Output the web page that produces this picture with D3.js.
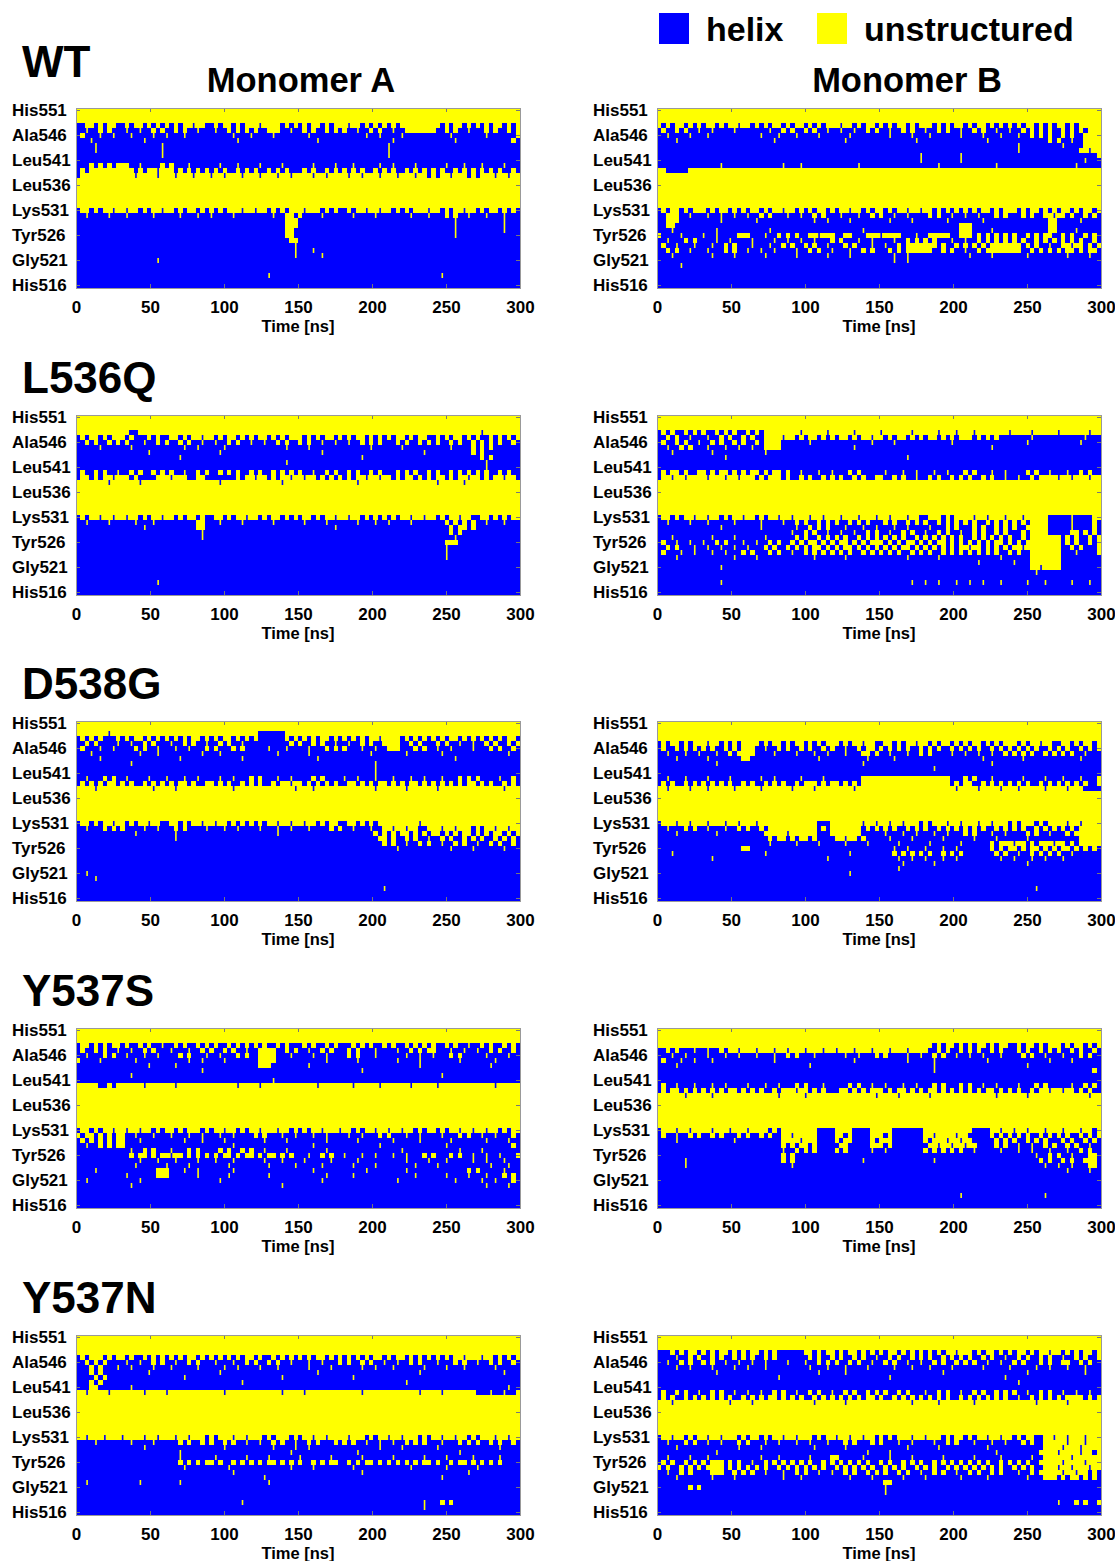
<!DOCTYPE html>
<html>
<head>
<meta charset="utf-8">
<script src="https://cdn.jsdelivr.net/npm/d3@7/dist/d3.min.js"></script>
<style>
  body { margin: 0; background: #fff; }
  text { font-family: "Liberation Sans", Arial, sans-serif; font-weight: bold; fill: #000; font-size: 17px; }
</style>
</head>
<body>
<script>
// residues on the y axis, top to bottom
var residues = d3.range(551, 515, -1);
var tickResidues = [551, 546, 541, 536, 531, 526, 521, 516];
var tickNames = ["His551", "Ala546", "Leu541", "Leu536", "Lys531", "Tyr526", "Gly521", "His516"];
var timeTicks = [0, 50, 100, 150, 200, 250, 300];
var variants = ["WT", "L536Q", "D538G", "Y537S", "Y537N"];
var monomers = ["Monomer A", "Monomer B"];
var legendNames = ["helix", "unstructured"];
var legendKeys = ["#", "."];

// one string per residue (His551 first), one char per time bin over 0-300 ns
// '#' = helix, '.' = unstructured; a single char fills the whole run
var wtA = [
  ".", ".", ".",
  "##..#.#..# #.#..#.#.# .#.#..#..# #.#..#.#.. .#....#.#. #.#..#.#.. .#..#.#.#. #.#....... ..#.#..#.# .#.#..#.#.", // 548
  "##.##.#.## #.##.##.#. ##.#.##.## #.##.#.#.# .##...##.# #.#.##.#.# .##.##.#.# #.##...... .##.#.##.# ##.#.##.#.",
  "#.###.##.# ##.####.## .###.##### #####.###. ####.##### ##.####### #####.##.# ###.###### ####.##### ##.######.", // 546
  "###.###### #####.#### ########## ######.### ########## ####.##### ########## #.######## #####.#### ########.#",
  "####.##### #########. ########## ########## ########## ########## ########## .######### ########## ##########",
  "####.##### #########. ########## ########## ########## ########## ########## .######### ########## ##########",
  "########## #########. ########## ########## ########## ########## ########## .######### ########## ##########",
  "#", // 541
  "###.#.#.#. ..##.####. #.###.#### ##.###.### #.####.### ###.####.# ##.#####.# #.####.### ###.###.## #.####.###",
  "#.#....... ...#.#..#. ..#.#.#.#. #.#.##.#.# .##.#.#.## #.#.##.#.# .#.#.##.#. #.##.#.#.# .#.##.#.#. #.#.#.##.#",
  "#......... ...#....#. ..#...#... #..#...#.. .#...#..#. ...#..#... .#..#...#. ..#...#..# .#..#...#. #...#..#..", // 538
  ".", ".", ".", ".", ".", ".",
  "#..#.#..#. .#..#.#..# ..#.#..#.# .#.#...#.. #..#.#.#.. .#...#.#.# #.#..#..#. .#.#.#...# ..#.#..#.. #.#..#.#.#", // 531
  "##.####.## #.#####.## ###.###.## .####.#### ####.##..# .####.#### ##.####.## #####.###. ###.#.##.# ##.###.###",
  "########## ########## ########## ########## #######... ########## ########## ########## #####.#### ######.###",
  "########## ########## ########## ########## #######... ########## ########## ########## #####.#### ######.###",
  "########## ########## ########## ########## #######..# ########## ########## ########## #####.#### ######.###",
  "########## ########## ########## ########## #######..# ########## ########## ########## #####.#### ##########", // 526
  "########## ########## ########## ########## ########.. ########## ########## ########## ########## ##########",
  "########## ########## ########## ########## #########. ########## ########## ########## ########## ##########",
  "########## ########## ########## ########## #########. ###.###### ########## ########## ########## ##########",
  "########## ########## ########## ########## #########. #####.#### ########## ########## ########## ##########",
  "########## ########.# ########## ########## ########## ########## ########## ########## ########## ##########", // 521
  "#", "#",
  "########## ########## ########## ########## ###.###### ########## ########## ########## ##.####### ##########",
  "#", "#"
];

var wtB = [
  ".", ".", ".",
  ".#.#..#.#. #..#.#..#. .#.#.#..#. #..#.#.#.. .#..#.#..# .#.#..#.#. ..#.#.#..# .#..#.#.#. #.#..#.#.# ..#.#.....", // 548
  "#.##.#.##. ##.####.## #####.##.# .##.#.##.# #.##.##.#. ##.##.#.## .##.#.##.# #.#.##.##. ##.#.#.#.# #.#.#.#...",
  "##.####.## #.######## ###.###.## #.####.### ###.###### ##.####.## #.######.# ###.###.## #.##.#.#.# #.#.##....", // 546
  "####.##### ########## ######.### ########## ##.####### ########.# ########## ####.##### ########.# .##.##....",
  "########## ########## ########## ########## ########## ########## ########## ########## #.######## #.####....",
  "########## ########## ########## ########## ########## ########## ########## ########## #.######## #####..#..",
  "########## ########## ########## ########## ########## #########. ########.# ########## ########## #########.",
  "########## ########## ########## ########## ########## #########. ########.# ########## ########## ######.###", // 541
  "########## ####.##### ########.# ##.####### #####.#### ########## ###.###### ######.### ########## ####.#####",
  "..#####... .......... .......... .......... .......... .......... .......... .......... .......... ..........",
  ".", ".", ".", ".", ".", ".", ".", // 538-532
  "#.#..#.#.. .#.#..#.#. #..#.#..#. .#.#.#..#. #..#..#.#. .#.#..#..# ..#.#.#.#. #.#..#.#.. .#.#..#.#. #..#.#..#.", // 531
  "##...##.## #.##.##.## .##.#.###. ##.##.#.## #.###.##.# .##.##.### #.#.##.##. ##.###.#.# ##.#.##..# ..#.##.#.#",
  "##...##### ####.##### ##.####### #####.##.# ###.###### ##.####.## #####.#### ###.###### ########.. #####.####",
  "##..###### ########## ########## ########## ########## ########## ########.. .######### ########.. ##########",
  "###.###### ###.###### #####.#### ########## ######.### ########## ########.. .####.#### ########.. ####.#####",
  ".####.#### .##.####.. .###.##.#. #.##..#... ##..###... #....###.# #.....##.. .#.#.#.#.# .##.#.#..# #.#.##.#.#", // 526
  "##.###.#.# ###.##.### #.####.##. ##.##.###. #.###.##.# ###.##.#.# .#.###.##. ##.#.#.#.# .#.##.#.#. #.#.#.##.#",
  "#.##.###.# ##.##.#.## #.###.##.# .##.#.##.# ##.#.###.# #.##.#.... ...#.##.#. #.#.#..... ..#.#.##.# #..#..#.#.",
  "##.#.##.## #.###.#.## .##.##.### #.##.#.##. ###.##.#.# ##.#.#.... ..##.#.##. ##.#...... ..##.#.#.# .#..#.#..#",
  "###.###### ##.####.## ####.##### #.######.# ###.###### ###.##.### ########## .####.#### ###.###### ##.####.##",
  "########## ########## ########## ########## ########## ###.##.### ########## ########## ########## ##########", // 521
  "#####.#### ########## ########## ########## ########## ########## ########## ########## ########## ##########",
  "#", "#", "#", "#"
];

var lqA = [
  ".", ".", ".",
  ".......... ..##...... .......... .......... .......... .......... .......... .......... .......... .#........", // 548
  "#.#..#.#.. .#.###.#.# #..#.#..#. .#.#..#.#. #..#.#.#.. .#.#.#..#. #.#..#.#.# .#..#.#..# #.#.#..#.# .##.#.#.#.",
  "##.#.##.#. #.###.##.# .##.#.##.# #.##.#.##. ##.##.#.## .#.##.##.# #.##.#.#.# ##.#.##.#. #.##.#.##. #.#.#.##.#", // 546
  "#####.#### ##.####### ####.##.## ###.###### #######.## ##.####### ######.### ###.###### ####.####. #.#.######",
  "########## ######.### ########## ##.####### ########## #####.#### ########## ########.# #########. #.########",
  "########## ########## ###.###### ########## ########## ########## ####.##### ########## ########## #.#.######",
  "########## ########## ########## ########## #######.## ########## ########## ########## ########## ##.#######",
  "########## ########## ########## ########## ########## ########## ########## ########## ########## ##.#######", // 541
  "#.##.#.##. ##.#.##.#. #.##.##.#. ##.#.#.##. #.##.#.#.# .##.##.#.# #.#.##.#.# ##.#.#.##. #.##.#.#.# .#.##.#.##",
  "#..#.#..#. ..#.####.. .#...##..# ######.#.. #..#.#..#. .#..#.#.#. #.#..#..#. .#.#..#.#. #..#.#..#. .#.#..#..#",
  ".......#.. ....#..... .......... ..#....... ......#... .......... ...#...... .......... .#.....#.. ..........", // 538
  ".", ".", ".", ".", ".", ".",
  "#.#..#..#. .#..#.#..# ..#.#..#.# #..#.#..#. .#.#..#.#. #..#.#..#. .#..#.#.#. #.#..#..#. .#.#..#..# #..#.#.#..", // 531
  "##.####.## ###.###.## #######..# ##.####.## ####.##### #.####.### ###.###.## .####.#### ###.#.#.#. ##.###.###",
  "########## #####.#### #######..# ########## ########## ########.# ########## ########## ####.#..#. ##########",
  "########## ########## ########.# ########## ########## ########## ########## ########## ####.#.### ##########",
  "########## ########## ########.# ########## ########## ########## ########## ########## #####.#### ##########",
  "########## ########## ########## ########## ########## ########## ########## ########## ###...#### ##########", // 526
  "########## ########## ########## ########## ########## ########## ########## ########## ###.###### ##########",
  "########## ########## ########## ########## ########## ########## ########## ########## ###.###### ##########",
  "########## ########## ########## ########## ########## ########## ########## ########## ###.###### ##########",
  "#", "#", "#", "#", // 522-519
  "########## ########.# ########## ########## ########## ########## ########## ########## ########## ##########",
  "#", "#"
];

var lqB = [
  ".", ".", ".",
  "#.#.##.#.# .##.#.#.## .#.#...... ..#.....#. ....#..... #......#.. ...#...#.. .#.......# ....#..... #......#..", // 548
  "##.#.##.## #.##.#.##. #.##....#. .#.#..#.#. #..#.#..#. .#.#..#.#. #..#.#.#.. .#.#.#.### ####.##### ######.###",
  "#.##.#.##. ##.#.##.#. ##.#....## ####.##### ########.# ###.###### ######.### ########## ###.###### #####.####", // 546
  "##.##.#.## #.###.##.# #.##....## ########## ####.##### ########## ########## #####.#### ########## ##########",
  "###.###### ##.####### ####.##### ########## ########## ########## ########## ########## ########## ##########",
  "########## #####.#### ########## ########## ########## ######.### ########## ########## ########## ##########",
  "#", "#", // 542-541
  "#.#..#.##. .#.#..#.#. #..#.#..#. ##.###.##. ###.#.#### #.###.##.# ##.##.###. #.###.##.# ###.#.##.# ##.##.#.##",
  "#..#..#... .#...#..#. ..#.#...#. ##.#.##.#. #.##.#.##. .##.#.##.# #.#.##.#.# .##.#.##.# #.##.#.... #..#...#..",
  ".", ".", ".", ".", ".", ".", ".", // 538-532
  "#..#.#..#. .#..#.#..# ..#.#..#.. #...#..#.. .#...#...# ..#...#..# #...#.#... .#..#...#. ..#.....## ###.####..", // 531
  "##.####.## #.#####.## ###.####.# #.#.##.#.# .##.#.#.## #.#.##.#.# .##.#.#.#. #.##.#.#.# .#.#....## ###.####.#",
  "########## ####.##### ###.###### #.##.#.#.# ##.###.##. ###.##.### #.###.#.## #.#.##.#.# .##.....## ###.####.#",
  "########## ########## ########## .##.#.##.# #.##.##.#. ##.##.#.## .##.#.##.# #.#.##.#.# ##.#....## ###..#.#.#",
  "###.###### ##.####.## ####.##### #.#.##.#.# .#.##.#.#. #.#.#.##.# .#.#.#.#.# #.#.#.#.#. ##.#...... .#.#.##.#.",
  "#.##.##.## .##.#.###. ##.##.#.## .#.#..#.#. #..#.#.#.. .#.#.#..#. #.#..#.#.# .#.#.#..#. #.#....... .#.#.##.#.", // 526
  "##.#.###.# #.##.##.## .###.#.##. #.#.#..#.# .#..#.#.#. #.#.#..#.# .#.#.#.#.. #..#.#.#.# ..#....... .##.#.###.",
  "#.###.##.# ##.##.###. #.###.#.## .##.#.#.#. #.#.##.#.# .#.#.##.#. #.##.#.#.# .#.#.#.##. #.##...... .###.####.",
  "####.##### #######.## ##.####### #####.#### ##.####### ######.### ###.###### #######.## ####...... .#########",
  "########## ########## ########## ########## ########## ########## ########## ##.####### .###...... .#########",
  "########## ####.##### ########## ########## ########## ########## ########## ########## ####..#... .#########", // 521
  "########## ########## ########## ########## ########## ########## ########## ########## #####.#### ##########",
  "#",
  "########## ####.##### ########## ########## ########## #######.## .##.###.## .##.###.## ###.###.## ###.###.##",
  "#", "#"
];

var dgA = [
  ".", ".",
  ".......#.. .......... .......... .......... .######... .......... .......... .......... .......... ..........", // 549
  "#.#.#.###. #.#..#.#.# .#.#.#..#. #.#..#.#.# .######.#. #.#.#..#.# .#.#.#..#. ...#.#.#.# .#.#..#.#. #.#.#.#..#",
  "##.#.####. ##.##.#.## #.##.#.##. ##.#.##.## ########.# .##.#.##.# #.##.#.##. ...##.#.## #.#.##.##. ##.#.##.#.",
  "#.###.##.# ###.#.##.# ##.##.###. #.###.#.## ###.###.## ##.###.#.# .###.##.## ...###.#.# #.##.####. ###.#.##.#", // 546
  "###.###### ####.###.# ########.# ##.####### #####.#### ##.####### ######.### ####.##### ##.####### #######.##",
  "#####.#### ########## ###.###### #######.## ########## ####.##### ########## ########## #####.#### ##########",
  "########## ##.####### ########## ########## ########## ########## #######.## ########## ########## ##########",
  "########## ########## ########## ########## ########## ########## #######.## ########## ########## ##########",
  "########## ########## ########## ########## ########## ########## #######.## ########## ########## ##########", // 541
  "##.###.#.# #.####.### .###.##.## ##.##.###. #.###.##.# ###.#.#### .##.###.## #.###.##.# ##.###.#.# .####.##.#",
  "#.#.#.#..# .#.##.#.#. #.#..#.##. .#.#.##.#. #.##.#..#. .#.#.#.#.# #..#.#.#.. #.#.#..#.# .#.#.#.#.. #.#.##.#.#",
  "....#..... .......#.. ..#....... .....#.... .........# ...#...... .......#.. ....#..... .#........ ......#...", // 538
  ".", ".", ".", ".", ".", ".",
  "#..#.#..#. .#.#..#..# #..#.#..#. .#..#.#.#. #.#..#..#. .#..#.#..# #..#.#.#.. .......#.. .......... ..........", // 531
  "##.###.#.# .####.##.# ##.#.####. ###.##.### #.###.##.# ##.####.#. ##.###.##. .#..#..##. ..#..#...# .#..#..#..",
  "########## ###.###### ##.####### ########## #####.#### ########## #######.#. #.#..#.#.# ..#.#.#..# .#.#..#.#.",
  "########## ########## ##.####### ########## ########## ########## ########.. #.##.#.##. ##.#.##.#. #.##.#.#.#",
  "########## ########## ########## ########## ########## ########## #########. #.##.##.#. ##.##.#.## .##.#.##.#",
  "########## ########## ########## ########## ########## ########## ########## ##.####### ####.####. ######.###", // 526
  "#", "#", "#", "#",
  "##.####### ########## ########## ########## ########## ########## ########## ########## ########## ##########", // 521
  "####.##### ########## ########## ########## ########## ########## ########## ########## ########## ##########",
  "#",
  "########## ########## ########## ########## ########## ########## #########. ########## ########## ##########",
  "#", "#"
];

var dgB = [
  ".", ".", ".", ".",
  "#.#..#.#.. .#..#.#.#. ...#.#..#. #..#.#.#.. .#.#..#..# #..#.#..#. .#.#..#.#. #..#.#.#.. .#.#..#..# #..#.#..#.", // 547
  "#.##.#.#.# .#.##.#.#. ..##.##.#. ##.#.##.#. ##.##.#..# .#.#.#.##. #.#.##.#.# .#.##.#.#. #.#.#.##.# .#.##.#.#.",
  "##.###.##. ###.##.#.. ..####.### #.###.##.# ##.###..#. ##.###.##. #.####.##. ##.##.##.# .#.#.##.#. #.#.##.###",
  "####.##### #.#######. .######### ######.### #######.## ###.###### ########## ###.###### ##.####### #####.####",
  "########## ###.###### ########## ########## ######.### ########## ########## #####.#### ########## ##########",
  "########## ########## ########## ########## ########## ########## ##.####### ########## ########## ##########",
  "#", // 541
  "##.###.### #.####.### ###.##.### ##.####.## ######.... .......... ......###. #.###.#### ##.####.## #.###.###.",
  "#.#.##.#.# .#.#.#.##. #.##.#.#.# #.#...#.#. .#.#.#.... .......... ......#.#. .##.#.#.#. #.#.##.#.# .#.#.#.##.",
  "..#....#.. .#.....#.. ...#...... #....#.... ....#..... .......... .......#.. ..#....#.. .#.....#.. ..#...####", // 538
  ".", ".", ".", ".", ".", ".",
  "#...#..#.. .#...#..#. ..#....... ......###. ......#..# ..#..#...# .#...#..#. ..#..#...# .#...#.#.. ..#..#....", // 531
  "##.###.#.# #.###.##.# .##.#..... ......#.#. ......#.#. #.#.##.#.# .##.#.#.#. #.#.##.#.# .#.##.#.#. #.#.#.....",
  "####.##### ###.###### ####.....# ......###. ......#### #.###.##.# ##.##.###. #.###.##.# ###.#.##.# ##.#......",
  "########## ########## #####.#..# .#..#.#### ..#..#.### ##.####.## ####.##### #.####.### ###.###### #####.....",
  "########## ########## #####.#### #.####.### ##.####.## ####.##### #.######.# #####.#... #..#.#...# ..#.#.....",
  "########## #########. .######### ########## ########## ###.##.### .###.##.## #####.#.#. .#.#..#.#. #..#.#.#.#", // 526
  "###.###### ########## ####.##### ########## ###.###### ###.#.#.#. #.##.#.#.# ######.#.# #.##.#.#.# .##.######",
  "########## ##.####### ########## ########.# ########## ####.##.## .###.##.## #######.## .###.##.## #.########",
  "########## ########## ########## ########## ########## #####.#### ##.####### ########## ###.###### ##########",
  "########## ########## ########## ########## ########## ####.##### ########## ########## ########## ##########",
  "########## ########## ########## ########## ###.###### ########## ########## ########## ########## ##########", // 521
  "#", "#",
  "########## ########## ########## ########## ########## ########## ########## ########## #####.#### ##########",
  "#", "#"
];

var ysA = [
  ".", ".", ".",
  "#..#.#.#.. #.##.#.##. ##.#.##.#. #.##.#.#.# .#.##.#.## #.#.##.#.# ##.#.#.##. #.##.#.#.# .##.#.##.# #.#.##.#.#", // 548
  "#.##.#.##. ##.##.#.## #.###.##.# .##.#.##.# #....##.#. ##.##.#.## #.#.###.## ##.##.#.#. .###.##.## .##.#.##.#",
  "##.###.#.# #.###.##.# ###.#.###. ##.###.#.# #....###.# ###.##.### #.#.###.## ####.##.## .###.#.### ##.####.##", // 546
  ".####.#### ###.###### #####.##.# ###.###### #....##### ######.### ###.###### ##.####.## ######.### ####.#####",
  "########## ######.### ##.####### ########## #...###### ##.####### ########## #######.## ########## ###.######",
  "########## ########## ########.# ########## ########## ########## ####.##### ########## ########## ##########",
  "########## ##.####### ########## ########## ########## ########## ########## ########## ##.####### ##########",
  "########## ########## ########## ########## ####.##### ########## ########## ########## ########## ##########", // 541
  ".....##.#. .....#.... ..#....... ......#... .#........ ....#..... ..#.....#. .....#.... .#........ ....#.....",
  ".", ".", ".", ".", ".", ".", ".", ".", // 539-532
  "#..#.#..#. .#..#..#.# ..#.#...#. #..#..#.#. .#...#..#. #.#..#...# ..#.#..#.. #..#..#.#. .#.#..#..# ..#..#.#..", // 531
  ".#..#.#.#. .##.###.## #.###.##.# ##.##.#### .#.###.##. ###.##.### #.##.###.# .###.##.## ##.###.#.# #.##.###.#",
  "#.#.#.#.#. .###.##### ####.###.# ###.###### ##.####.## ######.### ###.###### #.#####.## ####.##### ##.####.##",
  "##.##.#.#. .######### ########## #####.#### ########## ###.###### ########.# ########## ###.###### ########.#",
  "########## ##.##.#.## #.###.#.## ##.#.##.#. ##.####.## ######.### ########## ###.###### ######.### #.########",
  "########## ##.#..#.#. .#..#.#.#. #.#..#.#.. #.#..#.#.# ##.##.#.## .###.##.## #.##.###.# .###.#.##. ##.##.###.", // 526
  "########## ####.###.# ##.####.## #.###.#### ##.###.### #.#####.## ###.###### ####.####. ###.#####. ##.###.###",
  "########## ###.###### .####.#### ####.##### ###.#####. #####.#### ##.####.## ######.### #.######## ###.###.##",
  "####.##### ########.. .###.##.## #####.#### ########## ###.###### #####.#### ####.##### ########.# .#####.###",
  "########## #.######.. .######.## ####.##### ###.###### ######.### ##.####### ######.### ###.####.# ##.###.#.#",
  "##.####### ####.##### ########## ##.####### ########## #####.#### ########## ##.####### #####.#### #.##.###.#", // 521
  "########## ##.####### ########## ########## ######.### ########## ########## ########## ########## ##.####.##",
  "#", "#", "#", "#"
];

var ysB = [
  ".", ".", ".",
  ".......... .......... .......... .......... .......... .......... ..#.#..#.# .#..#.#..# #.#..#.#.. .#.#..#.#.", // 548
  "##.#.###.# #.##.#..#. ..#...#..# ...#...#.. #...#...#. ..#...#... .##.#.##.# .#.##.#.## #.#.##.#.# .##.#.##.#",
  "###.##.### #.###.##.# ##.###.##. #.###.#### ##.##.###. #.####.##. ##.#.##.## .##.###.## ##.#.##.## #.###.#.##", // 546
  "#.###.##.# ##.####### ######.### ########## ####.##### ######.### ##.####### ####.##### ########.# ###.######",
  "####.##### ########## ########## ####.##### ########## ########## ##.####### ########## ###.###### ##########",
  "########## ########## ########## ########## ########## ########## ##.####### ########## ########## ########.#",
  "#", "#", // 542-541
  "#.##.###.# ##.##.#### .###.##.## #.#.###.## ###.#.##.# #.###.##.# ##.#.###.# .##.##.### #.###.#.## ###.##.#.#",
  "#.#..#.#.# .#.#.#..#. #.#.##.#.. .#..#.#.## #..#.#.#.. .#.#..#.#. #..#.#.#.# .#.#..#.#. #.##.#..#. .#..#.#.##",
  "......#... ..#....... .......#.. ...#...... .........# ....#..... .#........ ......#... ...#...... .......#..", // 538
  ".", ".", ".", ".", ".", ".",
  "#...#..#.. ..#...#... #....#.#.. ......#### ....####.. ...####### .......... .####..#.. #..#...#.. .#...#..#.", // 531
  "#.##.##.#. ##.#.###.# .##.#.##.. #.....#### ..#.####.. .#.####### ..#....#.. #####.#.#. #.#.##.#.# .#.##.#.#.",
  "####.##### #######.## ########.. ..#...#### .#..####.# ...####### .#...#..#. .#####.#.# .##.#.#.## #.#.##.#.#",
  "########## ########## ########.# .#..#.#### #..#####.. .#.####### #..#..#..# ..####.#.# #.##.##.#. ##.#.##.##",
  "########## ########## ########.# #.#.#.#### .#.#####.# #.######## .#.#.#.#.# #.#####.## #.##.###.# ##.##.#.##",
  "########## ########## ########.# .######### ########## ########## ########## ########## #####.##.# .##.###..#", // 526
  "######.### ########## ########.# .######### ######.### ########## ##.####### ########## ######.#.# #.#.##...#",
  "######.### ########## ########## .######### ########## ########## ########## ########## #######.## .##.###..#",
  "########## ########## ########## ########## ########## ########## ########## ########## ########## ##.####.##",
  "#", "#", "#", "#", // 522-519
  "########## ########## ########## ########## ########## ########## ########.# ########## #######.## ##########",
  "#", "#"
];

var ynA = [
  ".", ".", ".", ".",
  "#.#...#.#. .#.##.#.#. #.#.#..#.# .#.#.#.#.. #.##.#.#.# .#.#..#.#. #.#.#.#..# .#..#.#.#. #.#.#..#.. .#..#.#.#.", // 547
  "##.#.#.### #.##.##.#. ##.##.#.## #.###.##.# .##.#.##.# ##.##.###. #.##.#.##. ##.##.#.## #.###.#.## .##.#.##.#",
  "###.#.###. ##.####.## #.#####.## ###.##.### #.###.#### ##.####.## ####.##.## #.######.# ###.###.## ####.#####",
  "###.#.#### ######.### ########## ##.####### ########## ####.##### ########## #######.## ########## ######.###",
  "####.#.### ########## ####.##### ########## ######.### ########## ##.####### ########## ########## ##########",
  "###.#.#### ########## ########## #######.## ########## ########## ########## ####.##### ########## ##########",
  "###..##### ##.####### ########## ########## ########## ########## ########## ########## ########## #######.##", // 541
  "..#....#.. .....#.... #......... ...#...... ......#... .#........ ....#..... .......#.. ..#....... ###.##.##.",
  ".", ".", ".", ".", ".", ".", ".", ".", // 539-532
  "..#...#... #....#..#. ..#..#...# .#...#..#. ..#.#...#. #..#..#... .#...#.#.. #..#...#.# ..#..#..#. #...#..#..", // 531
  "####.##### ##.####.## ###.#.##.# .##.#.##.# #.##.#.##. ##.#.###.# .#.##.##.# #.##.#.#.# ##.###.#.# .##.#.##.#",
  "########## #####.#### ########## ###.###### ####.####. ##.####### ########.# ###.###### #.######## #####.####",
  "########## ########## ###.###### ########## ########.# ########## ###.###### ########## ######.### ##########",
  "########## ########## ###.###### #.######.# ###.###### .######.## ####.##### #.######.# ###.#####. #####.####",
  "########## ########## ###.#.#.#. .#.##.#.#. #.#..#.#.# .##.#.#..# #.#.#..#.# .#.#.#.#.. #.##.#..#. #.#.#.####", // 526
  "########## ########## ####.##### ####.##### ########.# ###.###### ##.####### #####.#### ###.###### .#########",
  "########## ########## ########## #####.#### ########## ########## ####.##### ########## ########.# ##########",
  "########## ########## ########## ########## ##.####### ########## ########## ########## ##.####### ##########",
  "##.####### ####.##### ###.###### ########## ###.###### ########## ########## ########## ########## ##########",
  "#", "#", "#", // 521-519
  "########## ########## ########## #######.## ########## ########## ########## ########.# ##.#.##### ##########",
  "########## ########## ########## ########## ########## ########## ########## ########.# ########## ##########",
  "#"
];

var ynB = [
  ".", ".", ".",
  "###.#.#..# .#.#..#.#. #..#.#.### ###..#.#.. #.#..#.#.# .#..#.#.#. #.#.#..#.. .#.#..#.#. #..#.#..#. .#.#.#..#.", // 548
  "####.##.#. ##.#.##.#. #.##.#.### ####.#.##. #.##.#.##. ##.#.##.#. #.##.#.#.# .##.#.##.# #.#.##.#.# #.##.#.##.",
  "##.##.#.## .#.##.##.# #.##.####. ###.##.#.# .##.#.##.# #.#.##.##. ##.#.##.#. #.##.##.## .#.###.#.# #..##.#.##", // 546
  "####.##.## ##.####.## .###.##### ####.###.# ##.####.## ###.###.## #.####.### ###.#####. #####.##.# ##.###.###",
  "########## ###.###### ########## ######.### ##.####### ########## ####.##### ########## ###.###### ######.###",
  "########## ########## #######.## ########## ########## ##.####### ########## ########.# ########## ##########",
  "########## ########## ########## ########## ########## ########## ########## ########## #.######## ##########",
  "#", // 541
  "#.##.#.##. ##.#.##.## .##.##.#.# #.##.#.##. ##.#.##.#. #.##.#.### .##.#.##.# #.#.##.#.# .##.##.#.# #.##.##.##",
  "#.#.##.#.# .#.#.#.##. #.#.#..#.# .#.##.#.#. #.#.#.#..# .##.#.#.#. #.#.#.##.# .#.#.#.#.# #.##.#.#.# .#....#.#.",
  "...#...... ......#... .#........ .....#.... ..#....... .......#.. ...#...... .#........ .....#.... ..#.......", // 538
  ".", ".", ".", ".", ".", ".",
  "#..#..#.#. .#..#...#. #..#.#..#. .#...#.#.. #..#..#..# .#.#...#.. #...#.#..# .#..#..#.. #.#..##..# ..#...#...", // 531
  "##.###.#.# #.##.###.# .###.##.## #.##.###.# ##.#.###.# .###.##.## ##.##.#.## #.###.##.# ##.#.##... ..#...#...",
  "####.##### ########.# ###.###### #####.#### ##.####### ######.### ###.###### ####.##### #######... .#...#....",
  "########## ###.###### ########## ########## #######.## ##.####### ########## ######.### ######.... #....#..#.",
  "##.####.## #.######## ###.###.## ####.####. .#####.### ##.####.## ####.##### #.#####.## ####.##... ...#......",
  "#.#.##.#.# .#...#.#.# #.##.#.#.# .#.#.##.#. #.#.#.#.## .#.##.#.#. ##.#.#.#.# .#.#.##.#. #.#.##.... .#....#...", // 526
  ".#.##.#.#. #....#.#.# .#.#.##.#. #.#.#.#.## .#.#.#.#.# #.#.#.##.# .#.##.#.#. #.#.#.#.## .#.#.##... #..#...#..",
  "##.##.#.## ##...##.#. #.##.###.# #.#.##.##. ##.#.##.#. #.##.#.##. ##.#.##.## .#.##.#.## #.##.#.... .#..#..#.#",
  "####.##### ##.####.## ########.# ##.####### ###.####.# #####.#### .#######.# ####.##### ###.###... #.#..#.#.#",
  "########## ########## ########## ########## ########## #..####### ########## ########## ########## ##########",
  "#######.#. ########## ########## ########## ########## #.######## ########## ########## ########## ##########", // 521
  "########## ########## ########## ########## ########## #.######## ########## ########## ########## ##########",
  "#",
  "########## ########## ########## ########## ########## ########## ########## ########## ########## .###.#.##.",
  "#", "#"
];

var colour = {"#": "#0000ff", ".": "#ffff00"};
var panels = [[wtA, wtB], [lqA, lqB], [dgA, dgB], [ysA, ysB], [ynA, ynB]];

var plotW = 444, plotH = 180;
var colX = [76, 657];
var rowY = [108, 415, 721, 1028, 1335];

var svg = d3.select("body").append("svg")
  .attr("width", 1115).attr("height", 1561)
  .style("display", "block");

var x = d3.scaleLinear().domain([0, 300]).range([0, plotW]);
var y = d3.scaleBand().domain(residues).range([0, plotH]);

// split a row string into runs; a one-bin excursion between two longer
// runs is a brief switch, drawn as a thin line over the surrounding state
function cells(row) {
  var s = row.replace(/ /g, "");
  var n = s.length, w = 300 / n, rs = [], start = 0;
  for (var i = 1; i <= n; i++) {
    if (i === n || s[i] !== s[start]) {
      rs.push({start: start, len: i - start, c: s[start]});
      start = i;
    }
  }
  var out = [];
  rs.forEach(function(r, i) {
    var prev = rs[i - 1], next = rs[i + 1];
    if (r.len === 1 && prev && next && prev.len > 1 && next.len > 1) {
      out.push({t0: r.start * w, t1: (r.start + 1) * w, c: prev.c, thin: false});
      out.push({t0: (r.start + 0.32) * w, t1: (r.start + 0.68) * w, c: r.c, thin: true});
    } else {
      out.push({t0: r.start * w, t1: (r.start + r.len) * w, c: r.c, thin: false});
    }
  });
  return out;
}

function tidy(sel) {
  sel.select(".domain").remove();
  sel.attr("font-family", null).attr("font-size", null);
  sel.selectAll("line").attr("stroke", "#777");
}

panels.forEach(function(pair, r) {
  svg.append("text")
    .attr("x", 22)
    .attr("y", r === 0 ? 77 : rowY[r] - 22)
    .style("font-size", "44px")
    .text(variants[r]);

  pair.forEach(function(rows, c) {
    var g = svg.append("g").attr("transform", "translate(" + colX[c] + "," + rowY[r] + ")");
    var cellG = g.append("g");
    rows.forEach(function(row, k) {
      cellG.selectAll(null).data(cells(row)).enter().append("rect")
        .attr("x", function(d) { return x(d.t0); })
        .attr("width", function(d) { return x(d.t1) - x(d.t0); })
        .attr("y", y(residues[k]))
        .attr("height", y.bandwidth())
        .attr("shape-rendering", function(d) { return d.thin ? "auto" : "crispEdges"; })
        .attr("fill", function(d) { return colour[d.c]; });
    });

    g.append("g").attr("transform", "translate(0," + plotH + ")")
      .call(d3.axisBottom(x).tickValues(timeTicks).tickSizeInner(-4).tickSizeOuter(0).tickPadding(13))
      .call(tidy);
    g.append("g")
      .call(d3.axisTop(x).tickValues(timeTicks).tickSizeInner(-4).tickSizeOuter(0).tickFormat(""))
      .call(tidy);
    g.append("g")
      .call(d3.axisLeft(y).tickValues(tickResidues).tickSizeInner(-4).tickSizeOuter(0)
        .tickFormat(function(d) { return tickNames[tickResidues.indexOf(d)]; }))
      .call(tidy)
      .selectAll("text")
      .attr("text-anchor", "start")
      .attr("x", -64);
    g.append("g").attr("transform", "translate(" + plotW + ",0)")
      .call(d3.axisRight(y).tickValues(tickResidues).tickSizeInner(-4).tickSizeOuter(0).tickFormat(""))
      .call(tidy);

    g.append("rect")
      .attr("width", plotW).attr("height", plotH)
      .attr("fill", "none").attr("stroke", "#999")
      .attr("shape-rendering", "crispEdges");

    g.append("text")
      .attr("x", plotW / 2).attr("y", plotH + 44)
      .attr("text-anchor", "middle")
      .style("font-size", "16.5px")
      .text("Time [ns]");
  });
});

// column headers
svg.selectAll("text.monomer").data(monomers).enter().append("text")
  .attr("class", "monomer")
  .attr("x", function(d, i) { return [301, 907][i]; })
  .attr("y", 92)
  .attr("text-anchor", "middle")
  .style("font-size", "34.5px")
  .text(function(d) { return d; });

// legend
var lg = svg.selectAll("g.legend").data(legendNames).enter().append("g")
  .attr("class", "legend")
  .attr("transform", function(d, i) { return "translate(" + [659, 817][i] + ",13)"; });
lg.append("rect")
  .attr("width", 30).attr("height", 31)
  .attr("fill", function(d, i) { return colour[legendKeys[i]]; });
lg.append("text")
  .attr("x", 47).attr("y", 28)
  .style("font-size", "34px")
  .text(function(d) { return d; });
</script>
</body>
</html>
